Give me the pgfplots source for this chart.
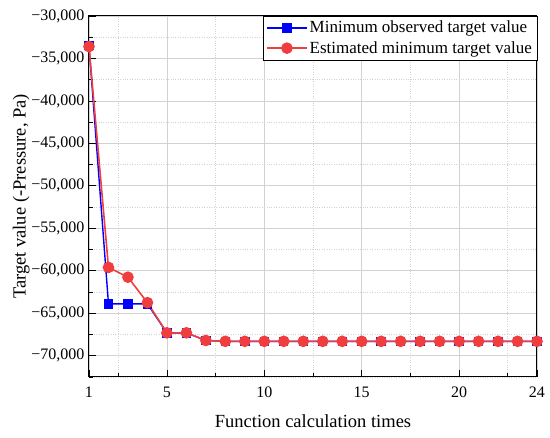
\documentclass[border=0pt]{standalone}
\usepackage{pgfplots}
\pgfplotsset{compat=1.18}
\usepackage{fontspec}
\setmainfont{Liberation Serif}
\definecolor{myblue}{RGB}{0,0,255}
\definecolor{myred}{RGB}{240,62,62}
\begin{document}
\begin{tikzpicture}
\path[use as bounding box] (-89pt,-61pt) rectangle (461pt,377pt);
\begin{axis}[
  at={(0pt,0pt)}, anchor=south west,
  scale only axis, width=448pt, height=361pt,
  xmin=1, xmax=24, ymin=-72500, ymax=-30000,
  scaled y ticks=false,
  xtick={1,5,10,15,20,24},
  minor xtick={2.5,7.5,12.5,17.5,22.5},
  ytick={-70000,-65000,-60000,-55000,-50000,-45000,-40000,-35000,-30000},
  yticklabels={{−70,000},{−65,000},{−60,000},{−55,000},{−50,000},{−45,000},{−40,000},{−35,000},{−30,000}},
  minor ytick={-72500,-67500,-62500,-57500,-52500,-47500,-42500,-37500,-32500},
  xticklabel style={font=\fontsize{16}{19}\selectfont, yshift=-6pt},
  yticklabel style={font=\fontsize{16}{19}\selectfont, xshift=-1pt},
  /pgf/number format/assume math mode=true,
  tick align=inside,
  tick pos=left,
  major tick length=7pt, minor tick length=4pt,
  tick style={black, line width=0.8pt},
  axis line style={black, line width=1pt},
  grid=both,
  major grid style={gray!35, line width=0.8pt},
  minor grid style={gray!35, dotted, line width=0.8pt},
  xlabel={Function calculation times},
  ylabel={Target value (-Pressure, Pa)},
  label style={font=\fontsize{18.5}{22}\selectfont},
  xlabel style={yshift=-10pt},
  ylabel style={yshift=-5pt},
  legend style={at={(1,1)}, anchor=north east, draw=black,
    font=\fontsize{17}{20}\selectfont, inner sep=3pt, row sep=3pt,
    cells={anchor=west}},
  legend cell align=left,
  legend image code/.code={\draw[mark repeat=2,mark phase=2] plot coordinates {(0pt,0pt) (20pt,0pt) (40pt,0pt)};},
  clip=false,
]
\addplot[myblue, line width=1.4pt, mark=square*, mark size=4pt, mark options={fill=myblue}]
coordinates {(1,-33500) (2,-63900) (3,-63900) (4,-63900) (5,-67300) (6,-67300) (7,-68200)
(8,-68300) (9,-68300) (10,-68300) (11,-68300) (12,-68300) (13,-68300) (14,-68300) (15,-68300)
(16,-68300) (17,-68300) (18,-68300) (19,-68300) (20,-68300) (21,-68300) (22,-68300) (23,-68300) (24,-68300)};
\addlegendentry{Minimum observed target value}
\addplot[myred, line width=1.6pt, mark=*, mark size=5pt, mark options={fill=myred}]
coordinates {(1,-33600) (2,-59600) (3,-60750) (4,-63750) (5,-67300) (6,-67300) (7,-68200)
(8,-68300) (9,-68300) (10,-68300) (11,-68300) (12,-68300) (13,-68300) (14,-68300) (15,-68300)
(16,-68300) (17,-68300) (18,-68300) (19,-68300) (20,-68300) (21,-68300) (22,-68300) (23,-68300) (24,-68300)};
\addlegendentry{Estimated minimum target value}
\end{axis}
\end{tikzpicture}
\end{document}
